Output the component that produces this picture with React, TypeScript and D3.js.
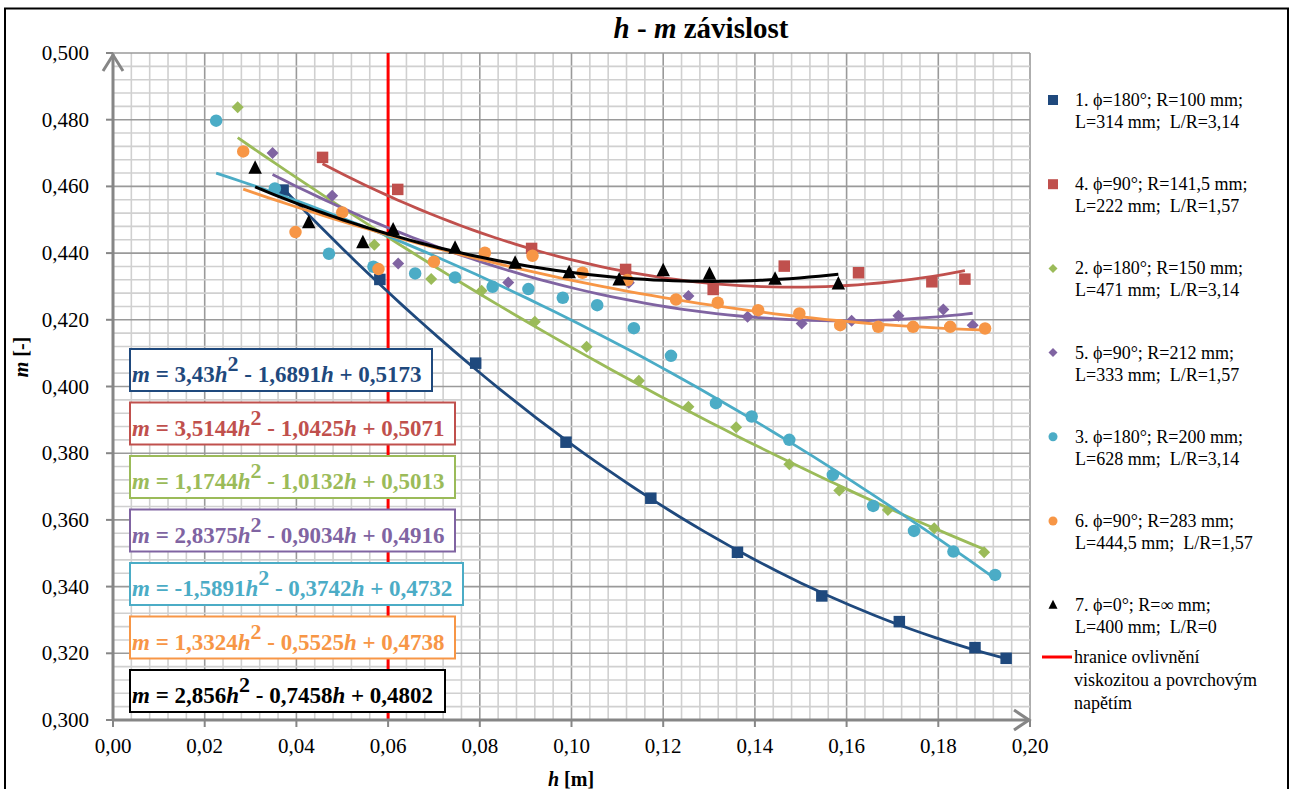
import React from 'react';
import * as d3 from 'd3';

// osa h [m] a m [-]
const xTicks = [0, 0.02, 0.04, 0.06, 0.08, 0.1, 0.12, 0.14, 0.16, 0.18, 0.2];
const yTicks = [0.3, 0.32, 0.34, 0.36, 0.38, 0.4, 0.42, 0.44, 0.46, 0.48, 0.5];
const hLimit = 0.06;

// 1. phi=180, R=100
const h1 = [0.0371, 0.0582, 0.0791, 0.0988, 0.1173, 0.1362, 0.1546, 0.1715, 0.188, 0.1948];
const m1 = [0.4589, 0.4321, 0.407, 0.3833, 0.3665, 0.3503, 0.3372, 0.3295, 0.3217, 0.3185];
const eq1 = [3.43, -1.6891, 0.5173];

// 4. phi=90, R=141,5
const h4 = [0.0457, 0.0621, 0.0913, 0.1118, 0.1309, 0.1464, 0.1626, 0.1786, 0.1858];
const m4 = [0.4687, 0.4591, 0.4414, 0.4351, 0.4291, 0.4361, 0.4341, 0.4314, 0.4322];
const eq4 = [3.5144, -1.0425, 0.5071];

// 2. phi=180, R=150
const h2 = [0.0272, 0.057, 0.0694, 0.0804, 0.092, 0.1033, 0.1147, 0.1255, 0.1359, 0.1475, 0.1584, 0.169, 0.1791, 0.19];
const m2 = [0.4837, 0.4425, 0.4322, 0.4287, 0.4194, 0.4119, 0.4017, 0.3939, 0.3878, 0.3767, 0.3688, 0.363, 0.3575, 0.3503];
const eq2 = [1.1744, -1.0132, 0.5013];

// 5. phi=90, R=212
const h5 = [0.0348, 0.0478, 0.0622, 0.0862, 0.1125, 0.1255, 0.1384, 0.1502, 0.1611, 0.1713, 0.1811, 0.1875];
const m5 = [0.47, 0.4572, 0.4369, 0.4312, 0.4311, 0.4271, 0.4209, 0.4189, 0.4197, 0.4212, 0.4231, 0.4184];
const eq5 = [2.8375, -0.9034, 0.4916];

// 3. phi=180, R=200
const h3 = [0.0225, 0.0353, 0.0471, 0.0568, 0.0659, 0.0746, 0.0828, 0.0906, 0.0981, 0.1056, 0.1136, 0.1217, 0.1315, 0.1393, 0.1475, 0.157, 0.1658, 0.1747, 0.1833, 0.1924];
const m3 = [0.4797, 0.4594, 0.4398, 0.4359, 0.4339, 0.4327, 0.4299, 0.4292, 0.4266, 0.4244, 0.4175, 0.4092, 0.395, 0.391, 0.384, 0.3735, 0.3642, 0.3567, 0.3505, 0.3435];
const eq3 = [-1.5891, -0.3742, 0.4732];

// 6. phi=90, R=283
const h6 = [0.0284, 0.0398, 0.05, 0.0579, 0.07, 0.0811, 0.0915, 0.1024, 0.1122, 0.1228, 0.1319, 0.1407, 0.1497, 0.1586, 0.1669, 0.1745, 0.1826, 0.1902];
const m6 = [0.4705, 0.4463, 0.4522, 0.4352, 0.4374, 0.4401, 0.4392, 0.4341, 0.4319, 0.4261, 0.4251, 0.4229, 0.4219, 0.4184, 0.4179, 0.4179, 0.4179, 0.4174];
const eq6 = [1.3324, -0.5525, 0.4738];

// 7. phi=0, R=nekonecno
const h7 = [0.031, 0.0427, 0.0545, 0.0611, 0.0746, 0.0877, 0.0995, 0.1104, 0.12, 0.1301, 0.1444, 0.1582];
const m7 = [0.4654, 0.4491, 0.4431, 0.4469, 0.4414, 0.4369, 0.4341, 0.4319, 0.4347, 0.4336, 0.4321, 0.4307];
const eq7 = [2.856, -0.7458, 0.4802];

const series = [
  { h: h1, m: m1, eq: eq1, color: '#1F497D', mk: 'square', l1: '1. ϕ=180°; R=100 mm;', l2: 'L=314 mm;  L/R=3,14', bw: 302 },
  { h: h4, m: m4, eq: eq4, color: '#C0504D', mk: 'square', l1: '4. ϕ=90°; R=141,5 mm;', l2: 'L=222 mm;  L/R=1,57', bw: 325 },
  { h: h2, m: m2, eq: eq2, color: '#9BBB59', mk: 'diamond', l1: '2. ϕ=180°; R=150 mm;', l2: 'L=471 mm;  L/R=3,14', bw: 325 },
  { h: h5, m: m5, eq: eq5, color: '#8064A2', mk: 'diamond', l1: '5. ϕ=90°; R=212 mm;', l2: 'L=333 mm;  L/R=1,57', bw: 325 },
  { h: h3, m: m3, eq: eq3, color: '#4BACC6', mk: 'circle', l1: '3. ϕ=180°; R=200 mm;', l2: 'L=628 mm;  L/R=3,14', bw: 333 },
  { h: h6, m: m6, eq: eq6, color: '#F79646', mk: 'circle', l1: '6. ϕ=90°; R=283 mm;', l2: 'L=444,5 mm;  L/R=1,57', bw: 325 },
  { h: h7, m: m7, eq: eq7, color: '#000000', mk: 'triangle', l1: '7. ϕ=0°; R=∞ mm;', l2: 'L=400 mm;  L/R=0', bw: 315 },
];

const FONT = "'Times New Roman', 'Liberation Serif', 'DejaVu Serif', serif";

const marker = (type: string, cx: number, cy: number, s: number) => {
  if (type === 'square') return `M${cx - s / 2},${cy - s / 2}h${s}v${s}h${-s}Z`;
  if (type === 'diamond') return `M${cx},${cy - s / 2}L${cx + s / 2},${cy}L${cx},${cy + s / 2}L${cx - s / 2},${cy}Z`;
  if (type === 'triangle') return `M${cx},${cy - s * 0.6}L${cx + s / 2},${cy + s * 0.4}L${cx - s / 2},${cy + s * 0.4}Z`;
  const r = s / 2;
  return `M${cx - r},${cy}a${r},${r} 0 1,0 ${2 * r},0a${r},${r} 0 1,0 ${-2 * r},0`;
};

const num = (v: number) => String(Math.abs(v)).replace('.', ',');

export default function App() {
  const x = d3.scaleLinear().domain([0, 0.2]).range([113, 1030]);
  const y = d3.scaleLinear().domain([0.3, 0.5]).range([720, 53]);
  const minor = d3.range(0, 51).map(i => i * 0.004);
  const minorY = d3.range(0, 51).map(i => 0.3 + i * 0.004);
  const line = d3.line<number>().x(d => x(d)).curve(d3.curveLinear);

  const trend = (s: any) => {
    const lo = d3.min(s.h) as number, hi = d3.max(s.h) as number;
    const pts = d3.range(0, 61).map(i => lo + (hi - lo) * i / 60);
    const [a, b, c] = s.eq;
    return line.y(h => y(a * h * h + b * h + c))(pts);
  };

  const axisColor = '#868686';
  const legX = 1053;

  return (
    <div style={{ position: 'fixed', left: 0, top: 0, background: '#fff' }}>
      <svg width={1294} height={789} style={{ display: 'block', fontFamily: FONT }}>
        <rect x={0} y={0} width={1294} height={789} fill="#fff" />
        <rect x={5} y={8.5} width={1283} height={800} fill="none" stroke="#000" strokeWidth={2} />

        {/* grid */}
        <g>
          {minor.map((v, i) => (
            <line key={'gx' + i} x1={x(v)} x2={x(v)} y1={y(0.3)} y2={y(0.5)}
              stroke={i % 5 === 0 ? '#9a9a9a' : '#d0d0d0'} strokeWidth={1.6} />
          ))}
          {minorY.map((v, i) => (
            <line key={'gy' + i} x1={x(0)} x2={x(0.2)} y1={y(v)} y2={y(v)}
              stroke={i % 5 === 0 ? '#9a9a9a' : '#d0d0d0'} strokeWidth={1.6} />
          ))}
        </g>

        {/* hranice */}
        <line x1={x(hLimit)} x2={x(hLimit)} y1={y(0.3)} y2={y(0.5)} stroke="#FF0000" strokeWidth={3} />

        {/* axes */}
        <g stroke={axisColor} strokeWidth={3} fill="none">
          <line x1={x(0)} x2={x(0)} y1={y(0.3) + 1} y2={y(0.5) + 1} />
          <line x1={x(0) - 1} x2={x(0.2)} y1={y(0.3)} y2={y(0.3)} />
          <path d={`M${x(0) - 10},${y(0.5) + 18}L${x(0)},${y(0.5) + 2}L${x(0) + 10},${y(0.5) + 18}`} />
          <path d={`M${x(0.2) - 16},${y(0.3) - 10}L${x(0.2) - 1},${y(0.3)}L${x(0.2) - 16},${y(0.3) + 10}`} />
          {yTicks.map(t => <line key={'ty' + t} x1={x(0) - 7} x2={x(0)} y1={y(t)} y2={y(t)} strokeWidth={2} />)}
          {xTicks.map(t => <line key={'tx' + t} x1={x(t)} x2={x(t)} y1={y(0.3)} y2={y(0.3) + 7} strokeWidth={2} />)}
        </g>
        <g fontSize={21} fill="#000">
          {yTicks.map(t => (
            <text key={'ly' + t} x={x(0) - 24} y={y(t) + 7} textAnchor="end">{t.toFixed(3).replace('.', ',')}</text>
          ))}
          {xTicks.map(t => (
            <text key={'lx' + t} x={x(t)} y={y(0.3) + 33} textAnchor="middle">{t.toFixed(2).replace('.', ',')}</text>
          ))}
        </g>

        {/* series */}
        {series.map((s, si) => (
          <g key={'s' + si}>
            {s.h.map((h, i) => (
              <path key={i} d={marker(s.mk, x(h), y(s.m[i]), s.mk === 'circle' ? 12.5 : s.mk === 'diamond' ? 12 : s.mk === 'triangle' ? 13.5 : 11.5)} fill={s.color} />
            ))}
            <path d={trend(s) || ''} fill="none" stroke={s.color} strokeWidth={s.mk === 'triangle' ? 3 : 2.8} />
          </g>
        ))}

        {/* rovnice */}
        {series.map((s, si) => {
          const top = 349 + si * 53.5;
          const [a, b, c] = s.eq;
          return (
            <g key={'eq' + si}>
              <rect x={130} y={top} width={s.bw} height={42} fill="#fff" stroke={s.color} strokeWidth={2} />
              <text x={132} y={top + 33} fill={s.color} fontWeight="bold" fontSize={23}>
                <tspan fontStyle="italic">m</tspan>
                <tspan>{` = ${a < 0 ? '-' : ''}${num(a)}`}</tspan>
                <tspan fontStyle="italic">h</tspan>
                <tspan dy={-11} fontSize={22}>2</tspan>
                <tspan dy={11} fontSize={23}>{` ${b < 0 ? '-' : '+'} ${num(b)}`}</tspan>
                <tspan fontStyle="italic">h</tspan>
                <tspan>{` ${c < 0 ? '-' : '+'} ${num(c)}`}</tspan>
              </text>
            </g>
          );
        })}

        {/* titulky */}
        <text x={701} y={38} textAnchor="middle" fontSize={29} fontWeight="bold">
          <tspan fontStyle="italic">h</tspan><tspan> - </tspan><tspan fontStyle="italic">m</tspan><tspan> závislost</tspan>
        </text>
        <text x={571} y={786} textAnchor="middle" fontSize={20} fontWeight="bold">
          <tspan fontStyle="italic">h</tspan><tspan> [m]</tspan>
        </text>
        <text transform="translate(28,357) rotate(-90)" textAnchor="middle" fontSize={20} fontWeight="bold">
          <tspan fontStyle="italic">m</tspan><tspan> [-]</tspan>
        </text>

        {/* legenda */}
        <g fontSize={18}>
          {series.map((s, si) => {
            const ly = 100 + si * 84.2;
            return (
              <g key={'lg' + si}>
                <path d={marker(s.mk, legX, ly, s.mk === 'square' ? 10 : 9)} fill={s.color} />
                <text x={1075} y={ly + 6} xmlSpace="preserve">{s.l1}</text>
                <text x={1075} y={ly + 28} xmlSpace="preserve">{s.l2}</text>
              </g>
            );
          })}
          <line x1={1042} x2={1072} y1={657} y2={657} stroke="#FF0000" strokeWidth={3} />
          <text x={1074} y={663}>hranice ovlivnění</text>
          <text x={1074} y={686}>viskozitou a povrchovým</text>
          <text x={1074} y={709}>napětím</text>
        </g>
      </svg>
    </div>
  );
}
